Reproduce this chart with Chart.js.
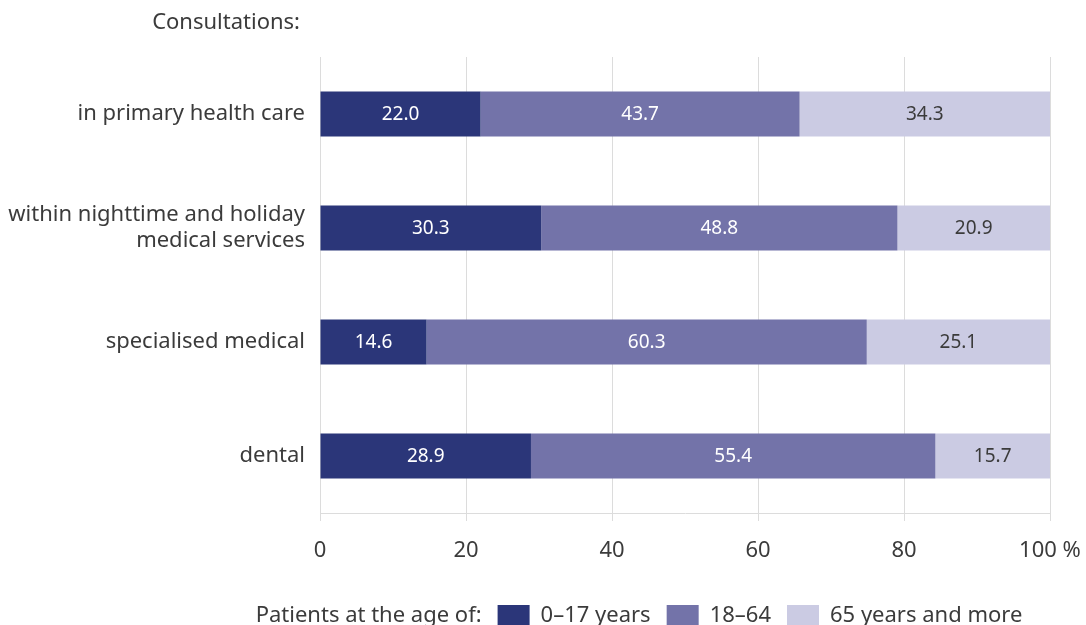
<!DOCTYPE html>
<html>
<head>
<meta charset="utf-8">
<script src="https://cdn.jsdelivr.net/npm/chart.js@4.4.1/dist/chart.umd.min.js"></script>
<style>
    html, body { margin: 0; padding: 0; background: #fff; }
    #wrap { width: 1086px; height: 625px; position: relative; }
</style>
</head>
<body>
<div id="wrap"><canvas id="chart"></canvas></div>
<script>
// data
const categories = [
    'in primary health care',
    ['within nighttime and holiday', 'medical services'],
    'specialised medical',
    'dental'
];
const ageGroups = ['0–17 years', '18–64', '65 years and more'];
const children = [22.0, 30.3, 14.6, 28.9];
const adults = [43.7, 48.8, 60.3, 55.4];
const seniors = [34.3, 20.9, 25.1, 15.7];
const xTicks = [0, 20, 40, 60, 80, 100];

const colors = ['#2b3679', '#7373a9', '#cbcbe3'];
const textColors = ['#ffffff', '#ffffff', '#3b3b3b'];
const fontFamily = '"Noto Sans", "Open Sans", sans-serif';
const textColor = '#3b3b3b';

Chart.defaults.font.family = fontFamily;
Chart.defaults.color = textColor;

// подписи значений в середине сегментов
const valueLabels = {
    id: 'valueLabels',
    afterDatasetsDraw(chart) {
        const ctx = chart.ctx;
        ctx.save();
        ctx.font = '19px ' + fontFamily;
        ctx.textAlign = 'center';
        ctx.textBaseline = 'middle';
        chart.data.datasets.forEach((ds, i) => {
            const meta = chart.getDatasetMeta(i);
            meta.data.forEach((bar, j) => {
                ctx.fillStyle = textColors[i];
                ctx.fillText(ds.data[j].toFixed(1), (bar.x + bar.base) / 2, bar.y + 1);
            });
        });
        ctx.restore();
    }
};

// заголовок сверху и легенда снизу
const extras = {
    id: 'extras',
    afterDraw(chart) {
        const ctx = chart.ctx;
        ctx.save();
        ctx.font = '22px ' + fontFamily;
        ctx.fillStyle = textColor;
        ctx.textBaseline = 'middle';
        ctx.textAlign = 'right';
        ctx.fillText('Consultations:', 300, 23);

        // legend
        ctx.textAlign = 'left';
        const title = 'Patients at the age of:';
        const boxW = 32, boxGap = 11, itemGap = 16, titleGap = 16;
        let total = ctx.measureText(title).width + titleGap;
        chart.data.datasets.forEach((ds, i) => {
            total += boxW + boxGap + ctx.measureText(ds.label).width;
            if (i < chart.data.datasets.length - 1) total += itemGap;
        });
        let x = 639 - total / 2;
        const y = 616;
        ctx.fillText(title, x, y);
        x += ctx.measureText(title).width + titleGap;
        chart.data.datasets.forEach((ds, i) => {
            ctx.fillStyle = ds.backgroundColor;
            ctx.fillRect(x, 605, boxW, 22);
            x += boxW + boxGap;
            ctx.fillStyle = textColor;
            ctx.fillText(ds.label, x, y);
            x += ctx.measureText(ds.label).width + itemGap;
        });
        ctx.restore();
    }
};

const seriesValues = [children, adults, seniors];

new Chart(document.getElementById('chart'), {
    type: 'bar',
    data: {
        labels: categories,
        datasets: seriesValues.map((values, i) => ({
            label: ageGroups[i],
            data: values,
            backgroundColor: colors[i],
            borderWidth: 0,
            categoryPercentage: 1,
            barPercentage: 0.395
        }))
    },
    options: {
        indexAxis: 'y',
        responsive: true,
        maintainAspectRatio: false,
        animation: false,
        layout: {
            padding: { top: 57, right: 36, bottom: 42, left: 0 }
        },
        plugins: {
            legend: { display: false },
            title: { display: false },
            tooltip: { enabled: false }
        },
        scales: {
            x: {
                stacked: true,
                min: 0,
                max: 100,
                afterBuildTicks(scale) {
                    scale.ticks = xTicks.map(v => ({ value: v }));
                },
                afterFit(scale) {
                    scale.height = 70;
                    scale.paddingRight = 0;
                    scale.paddingLeft = 0;
                },
                ticks: {
                    font: { size: 22 },
                    color: textColor,
                    padding: 17,
                    maxRotation: 0,
                    callback: (v) => v === 100 ? '100 %' : v
                },
                grid: {
                    color: '#dcdcdc',
                    lineWidth: 1,
                    drawTicks: true,
                    tickLength: 8
                },
                border: { display: true, color: '#dcdcdc' }
            },
            y: {
                stacked: true,
                afterFit(scale) {
                    scale.width = 320;
                },
                ticks: {
                    font: { size: 22 },
                    color: textColor,
                    padding: 15
                },
                grid: { display: false, drawTicks: false },
                border: { display: false }
            }
        }
    },
    plugins: [valueLabels, extras]
});
</script>
</body>
</html>
